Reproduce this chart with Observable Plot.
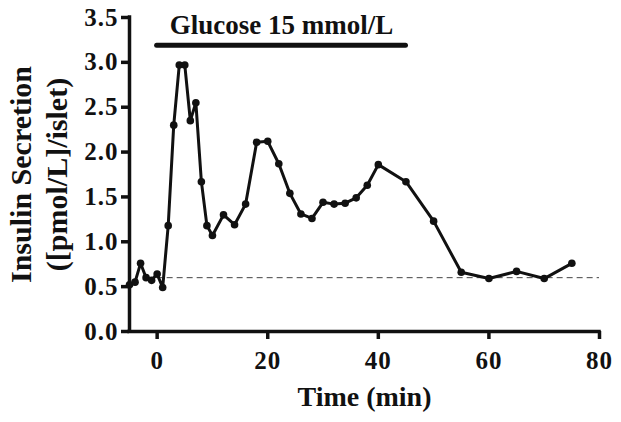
<!DOCTYPE html>
<html>
<head>
<meta charset="utf-8">
<script src="https://cdn.jsdelivr.net/npm/d3@7"></script>
<script src="https://cdn.jsdelivr.net/npm/@observablehq/plot@0.6"></script>
<style>
  html, body { margin: 0; padding: 0; background: #fff; }
  g[aria-label$="tick label"] text { letter-spacing: 1px; }
</style>
</head>
<body>
<div id="chart"></div>
<script>
// Time (min)
const time = [-5,-4,-3,-2,-1,0,1,2,3,4,5,6,7,8,9,10,12,14,16,18,20,22,24,26,28,30,32,34,36,38,40,45,50,55,60,65,70,75];
// Insulin secretion ([pmol/L]/islet)
const insulin = [0.52,0.55,0.76,0.60,0.57,0.64,0.49,1.18,2.30,2.97,2.97,2.35,2.55,1.67,1.18,1.07,1.30,1.19,1.42,2.11,2.12,1.87,1.54,1.31,1.26,1.44,1.42,1.43,1.49,1.63,1.86,1.67,1.23,0.66,0.59,0.67,0.59,0.76];
const baseline = [0.6];
const baselineRange = [0, 80];
const glucoseLabel = ["Glucose 15 mmol/L"];
const glucosePeriod = [0, 45];
const glucoseBarLevel = [3.19];
const glucoseLabelLevel = [3.41];
const xTicks = [0, 20, 40, 60, 80];
const yTicks = [0, 0.5, 1, 1.5, 2, 2.5, 3, 3.5];
const xDomain = [-5, 80];
const yDomain = [0, 3.5];
const yTitle = ["Insulin Secretion", "([pmol/L]/islet)"];
const xTitle = ["Time (min)"];

const data = time.map((t, i) => ({t, v: insulin[i]}));

const font = "'Liberation Serif', 'Times New Roman', serif";

const chart = Plot.plot({
  width: 621,
  height: 422,
  marginLeft: 129,
  marginRight: 22,
  marginTop: 17,
  marginBottom: 91,
  style: {fontFamily: font, fontWeight: "bold", fontSize: "24px", color: "#111", background: "#fff"},
  x: {domain: xDomain},
  y: {domain: yDomain},
  marks: [
    Plot.axisX({ticks: xTicks, tickSize: 8, tickPadding: 12, strokeWidth: 3.5, fontSize: 25, label: null, tickFormat: d3.format("d")}),
    Plot.axisY({ticks: yTicks, tickSize: 8, tickPadding: 3, strokeWidth: 3.5, fontSize: 25, label: null, tickFormat: d3.format(".1f")}),
    Plot.ruleY([yDomain[0]], {x1: xDomain[0], x2: xDomain[1], strokeWidth: 3.5, stroke: "#111", strokeLinecap: "square"}),
    Plot.ruleX([xDomain[0]], {y1: yDomain[0], y2: yDomain[1], strokeWidth: 3.5, stroke: "#111", strokeLinecap: "square"}),
    Plot.ruleY(baseline, {x1: baselineRange[0], x2: baselineRange[1], stroke: "#444", strokeWidth: 1, strokeDasharray: "6,4"}),
    Plot.lineY(data, {x: "t", y: "v", stroke: "#111", strokeWidth: 3}),
    Plot.dot(data, {x: "t", y: "v", r: 3.8, fill: "#111", stroke: "none"}),
    Plot.ruleY(glucoseBarLevel, {x1: glucosePeriod[0], x2: glucosePeriod[1], stroke: "#111", strokeWidth: 5, strokeLinecap: "round"}),
    Plot.text(glucoseLabel, {x: (glucosePeriod[0] + glucosePeriod[1]) / 2, y: glucoseLabelLevel[0], text: d => d, fontSize: 27, fontWeight: "bold", fill: "#111"}),
    Plot.text([yTitle[0]], {frameAnchor: "left", textAnchor: "middle", lineAnchor: "middle", text: d => d, rotate: -90, dx: -108, fontSize: 30, fontWeight: "bold", fill: "#111"}),
    Plot.text([yTitle[1]], {frameAnchor: "left", textAnchor: "middle", lineAnchor: "middle", text: d => d, rotate: -90, dx: -72, fontSize: 30, fontWeight: "bold", fill: "#111"}),
    Plot.text(xTitle, {frameAnchor: "bottom", textAnchor: "middle", lineAnchor: "middle", text: d => d, dy: 66, fontSize: 28, fontWeight: "bold", fill: "#111"})
  ]
});
document.getElementById("chart").appendChild(chart);
</script>
</body>
</html>
